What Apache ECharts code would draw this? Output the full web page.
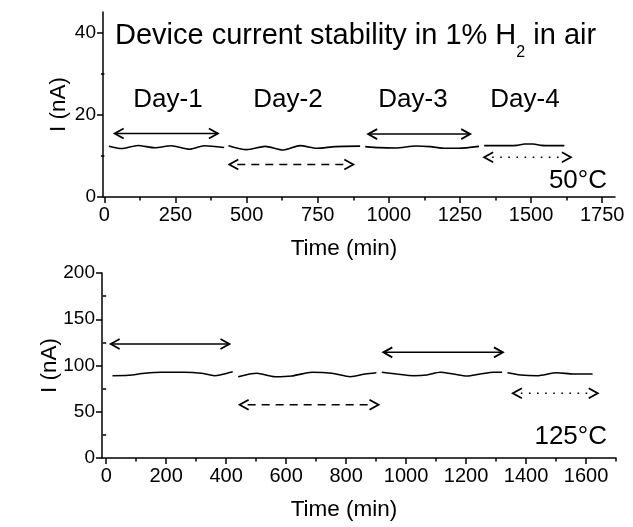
<!DOCTYPE html>
<html>
<head>
<meta charset="utf-8">
<script src="https://cdn.jsdelivr.net/npm/echarts@6/dist/echarts.min.js"></script>
<style>
  html, body { margin: 0; padding: 0; background: #fff; }
  #chart { width: 633px; height: 527px; }
</style>
</head>
<body>
<div id="chart"></div>
<script>
// Current (nA) against time (min) at 50 °C, one array per day
const day1At50 = [[16,12.34],[60,11.78],[118,12.53],[177,11.97],[235,12.46],[299,11.62],[351,12.46],[421,12.05]];
const day2At50 = [[436,12.49],[500,11.52],[565,12.32],[629,11.43],[688,12.49],[747,11.84],[811,12.25],[899,12.37]];
const day3At50 = [[917,12.25],[967,12.0],[1023,11.93],[1095,12.42],[1145,12.25],[1200,11.84],[1245,11.84],[1317,12.32]];
const day4At50 = [[1335,12.49],[1391,12.49],[1449,12.56],[1478,12.9],[1507,12.9],[1536,12.56],[1576,12.49],[1617,12.49]];

// Current (nA) against time (min) at 125 °C
const day1At125 = [[21,89.0],[74,89.4],[129,91.6],[184,92.7],[262,92.7],[317,91.6],[361,89.0],[383,90.1],[422,93.3]];
const day2At125 = [[440,87.9],[502,91.6],[563,87.9],[619,88.7],[686,92.7],[753,91.6],[814,87.9],[864,90.8],[901,92.2]];
const day3At125 = [[919,92.7],[969,90.8],[1025,89.0],[1069,89.8],[1114,92.7],[1158,90.8],[1203,88.7],[1247,90.8],[1292,92.7],[1320,92.7]];
const day4At125 = [[1338,92.2],[1382,89.8],[1437,89.0],[1503,92.2],[1558,90.8],[1622,90.8]];

// Day spans marked by double arrows: [start (min), end (min), level (nA)]
const spansAt50 = [[36,399,15.45],[439,875,7.9],[927,1286,15.3],[1335,1640,9.66]];
const spansAt125 = [[15,411,123.2],[445,908,57.5],[924,1323,114.2],[1356,1639,70]];
const dayNames = ['Day-1','Day-2','Day-3','Day-4'];

// Tick values
const timeTicks50 = [0,250,500,750,1000,1250,1500,1750];
const timeMinor50 = [125,375,625,875,1125,1375,1625];
const currentTicks50 = [0,20,40];
const currentMinor50 = [10,30];
const timeTicks125 = [0,200,400,600,800,1000,1200,1400,1600];
const timeMinor125 = [100,300,500,700,900,1100,1300,1500,1700];
const currentTicks125 = [0,50,100,150,200];
const currentMinor125 = [25,75,125,175];

const FONT = '"Liberation Sans", Arial, sans-serif';
const INK = '#000';
const spanStyles = ['solid','dashed','solid','dotted'];
const plain = v => String(v);

const chart = echarts.init(document.getElementById('chart'), null, { renderer: 'canvas' });

function mainXAxis(grid, min, max, ticks) {
  return {
    type: 'value', gridIndex: grid, min, max, position: 'bottom',
    name: 'Time (min)', nameLocation: 'middle', nameGap: 40, nameMoveOverlap: false,
    nameTextStyle: { color: INK, fontFamily: FONT, fontSize: 22.5, padding: [0, 30, 0, 0] },
    axisLine: { show: true, onZero: false, lineStyle: { color: INK, width: 1.5 } },
    axisTick: { show: true, inside: false, length: 6, customValues: ticks, lineStyle: { color: INK, width: 1.5 } },
    axisLabel: { show: true, customValues: ticks, formatter: plain, margin: 8, color: INK, fontFamily: FONT, fontSize: 20 },
    splitLine: { show: false }
  };
}
function minorXAxis(grid, min, max, ticks) {
  return {
    type: 'value', gridIndex: grid, min, max, position: 'bottom', offset: 0,
    axisLine: { show: false },
    axisTick: { show: true, inside: false, length: 3.5, customValues: ticks, lineStyle: { color: INK, width: 1.5 } },
    axisLabel: { show: false },
    splitLine: { show: false }
  };
}
function mainYAxis(grid, min, max, ticks, gap) {
  return {
    type: 'value', gridIndex: grid, min, max, position: 'left',
    name: 'I (nA)', nameLocation: 'middle', nameGap: gap, nameRotate: 90, nameMoveOverlap: false,
    nameTextStyle: { color: INK, fontFamily: FONT, fontSize: 22.5 },
    axisLine: { show: true, onZero: false, lineStyle: { color: INK, width: 1.5 } },
    axisTick: { show: true, inside: false, length: 6, customValues: ticks, lineStyle: { color: INK, width: 1.5 } },
    axisLabel: { show: true, customValues: ticks, formatter: plain, margin: 7, color: INK, fontFamily: FONT, fontSize: 19 },
    splitLine: { show: false }
  };
}
function minorYAxis(grid, min, max, ticks) {
  return {
    type: 'value', gridIndex: grid, min, max, position: 'left', offset: 0,
    axisLine: { show: false },
    axisTick: { show: true, inside: false, length: 3.5, customValues: ticks, lineStyle: { color: INK, width: 1.5 } },
    axisLabel: { show: false },
    splitLine: { show: false }
  };
}

function trace(data, xi, yi) {
  return {
    type: 'line', data, xAxisIndex: xi, yAxisIndex: yi,
    showSymbol: false, symbol: 'none', smooth: 0.25,
    lineStyle: { color: INK, width: 1.6 }, silent: true
  };
}

// Double-headed arrow spanning one day, drawn in data coordinates
function renderSpan(params, api) {
  const a = api.coord([api.value(0), api.value(2)]);
  const b = api.coord([api.value(1), api.value(2)]);
  const kind = spanStyles[params.dataIndex];
  const head = 9, half = 5;
  const gap = kind === 'solid' ? 0 : 8;
  const dash = kind === 'dashed' ? [8, 6] : kind === 'dotted' ? [1.6, 6.5] : null;
  return {
    type: 'group',
    children: [
      { type: 'line', shape: { x1: a[0] + gap, y1: a[1], x2: b[0] - gap, y2: b[1] },
        style: { stroke: INK, lineWidth: 1.5, lineDash: dash } },
      { type: 'polyline', shape: { points: [[a[0] + head, a[1] - half], [a[0], a[1]], [a[0] + head, a[1] + half]] },
        style: { stroke: INK, lineWidth: 1.8, fill: null } },
      { type: 'polyline', shape: { points: [[b[0] - head, b[1] - half], [b[0], b[1]], [b[0] - head, b[1] + half]] },
        style: { stroke: INK, lineWidth: 1.8, fill: null } }
    ]
  };
}
function spans(data, xi, yi) {
  return {
    type: 'custom', data, xAxisIndex: xi, yAxisIndex: yi,
    encode: { x: [0, 1], y: 2 }, renderItem: renderSpan, silent: true
  };
}

function label(text, x, y, size, align) {
  return {
    type: 'text', x, y, silent: true,
    style: { text, fill: INK, fontFamily: FONT, fontSize: size, textAlign: align || 'center', textVerticalAlign: 'middle' }
  };
}

const dayCentres = [168, 288, 413, 525];

chart.setOption({
  animation: false,
  backgroundColor: '#fff',
  grid: [
    { left: 103, top: 12, width: 512, height: 185, outerBoundsMode: 'none', containLabel: false },
    { left: 102, top: 273, width: 514, height: 185, outerBoundsMode: 'none', containLabel: false }
  ],
  xAxis: [
    mainXAxis(0, -5, 1795, timeTicks50),
    minorXAxis(0, -5, 1795, timeMinor50),
    mainXAxis(1, -14, 1700, timeTicks125),
    minorXAxis(1, -14, 1700, timeMinor125)
  ],
  yAxis: [
    mainYAxis(0, 0, 45, currentTicks50, 33),
    minorYAxis(0, 0, 45, currentMinor50),
    mainYAxis(1, 0, 200, currentTicks125, 41),
    minorYAxis(1, 0, 200, currentMinor125)
  ],
  series: [
    trace(day1At50, 0, 0), trace(day2At50, 0, 0), trace(day3At50, 0, 0), trace(day4At50, 0, 0),
    trace(day1At125, 2, 2), trace(day2At125, 2, 2), trace(day3At125, 2, 2), trace(day4At125, 2, 2),
    spans(spansAt50, 0, 0),
    spans(spansAt125, 2, 2)
  ],
  graphic: [
    {
      type: 'text', x: 115, y: 36, silent: true,
      style: {
        text: 'Device current stability in 1% H{sub|2} in air',
        fill: INK, fontFamily: FONT, fontSize: 29, lineHeight: 50,
        textAlign: 'left', textVerticalAlign: 'middle',
        rich: { sub: { fontFamily: FONT, fontSize: 16, lineHeight: 16, verticalAlign: 'bottom', fill: INK } }
      }
    },
    ...dayNames.map((name, i) => label(name, dayCentres[i], 100, 26)),
    label('50°C', 607, 181, 26, 'right'),
    label('125°C', 607, 437, 26, 'right')
  ]
});
</script>
</body>
</html>
